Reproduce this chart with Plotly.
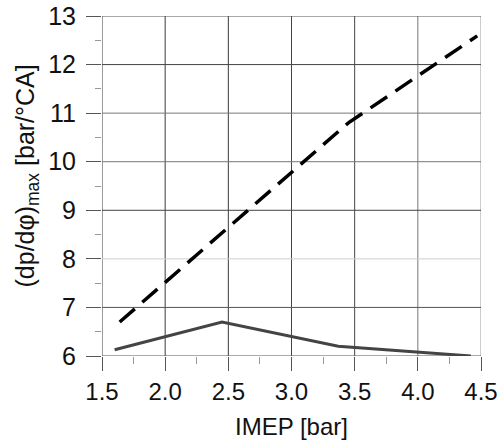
import plotly.graph_objects as go

imep_dashed = [1.64, 2.47, 3.45, 4.47]
dpdphi_dashed = [6.70, 8.57, 10.80, 12.59]
imep_solid = [1.60, 2.45, 3.37, 4.42]
dpdphi_solid = [6.13, 6.70, 6.20, 6.00]

x_ticks = [1.5, 2.0, 2.5, 3.0, 3.5, 4.0, 4.5]
x_ticklabels = ["1.5", "2.0", "2.5", "3.0", "3.5", "4.0", "4.5"]
y_ticks = [6, 7, 8, 9, 10, 11, 12, 13]

x_title = "IMEP [bar]"
y_title = "(dp/dφ)<sub>max</sub> [bar/°CA]"

# per-gridline shades (scan look of the original)
x_grid_colors = ["#3a3a3a", "#3a3a3a", "#3a3a3a", "#444444", "#444444", "#777777", "#9a9a9a"]
y_grid_colors = ["#555555", "#555555", "#cfcfcf", "#444444", "#777777", "#777777", "#444444", "#555555"]

FONT = "Liberation Sans, Arial, sans-serif"

fig = go.Figure()

for xv, c in zip(x_ticks, x_grid_colors):
    fig.add_shape(type="line", xref="x", yref="paper", x0=xv, x1=xv, y0=0, y1=1,
                  line=dict(color=c, width=1), layer="below")
for yv, c in zip(y_ticks, y_grid_colors):
    fig.add_shape(type="line", xref="paper", yref="y", x0=0, x1=1, y0=yv, y1=yv,
                  line=dict(color=c, width=1), layer="below")

fig.add_trace(go.Scatter(x=imep_dashed, y=dpdphi_dashed, mode="lines",
                         line=dict(color="#000000", width=3.5, dash="20px,10px"),
                         showlegend=False, hoverinfo="skip"))
fig.add_trace(go.Scatter(x=imep_solid, y=dpdphi_solid, mode="lines",
                         line=dict(color="#444444", width=3),
                         showlegend=False, hoverinfo="skip"))

fig.update_layout(
    width=503, height=441,
    margin=dict(l=102, r=22, t=16, b=85, autoexpand=False),
    paper_bgcolor="white", plot_bgcolor="white",
    font=dict(family=FONT, size=24, color="#111111"),
)
fig.update_xaxes(
    range=[1.5, 4.5], tickvals=x_ticks, ticktext=x_ticklabels,
    showgrid=False,
    ticks="outside", ticklen=14, tickcolor="#555555", tickwidth=1,
    minor=dict(dtick=0.25, tick0=1.5, ticks="outside", ticklen=7, tickcolor="#999999", showgrid=False),
    showline=False, zeroline=False, automargin=False,
    title=dict(text=x_title, font=dict(size=24), standoff=14),
    tickfont=dict(size=24),
)
fig.update_yaxes(
    range=[6, 13], tickvals=y_ticks,
    showgrid=False,
    ticks="outside", ticklen=15, tickcolor="#555555", tickwidth=1,
    minor=dict(dtick=0.5, tick0=6, ticks="outside", ticklen=6, tickcolor="#999999", showgrid=False),
    showline=False, zeroline=False, automargin=False,
    ticklabelstandoff=5,
    tickfont=dict(size=25),
)
fig.add_annotation(text=y_title, xref="paper", yref="paper",
                   x=(26 - 102) / 379, y=(356 - 176.5) / 340,
                   xanchor="center", yanchor="middle", textangle=-90,
                   showarrow=False, font=dict(size=25, family=FONT, color="#111111"))

fig.write_html("out.html", config={"displayModeBar": False, "staticPlot": True})
with open("out.html", "r", encoding="utf-8") as f:
    html = f.read()
html = html.replace("<body>", '<body style="margin:0;padding:0;overflow:hidden">', 1)
with open("out.html", "w", encoding="utf-8") as f:
    f.write(html)
